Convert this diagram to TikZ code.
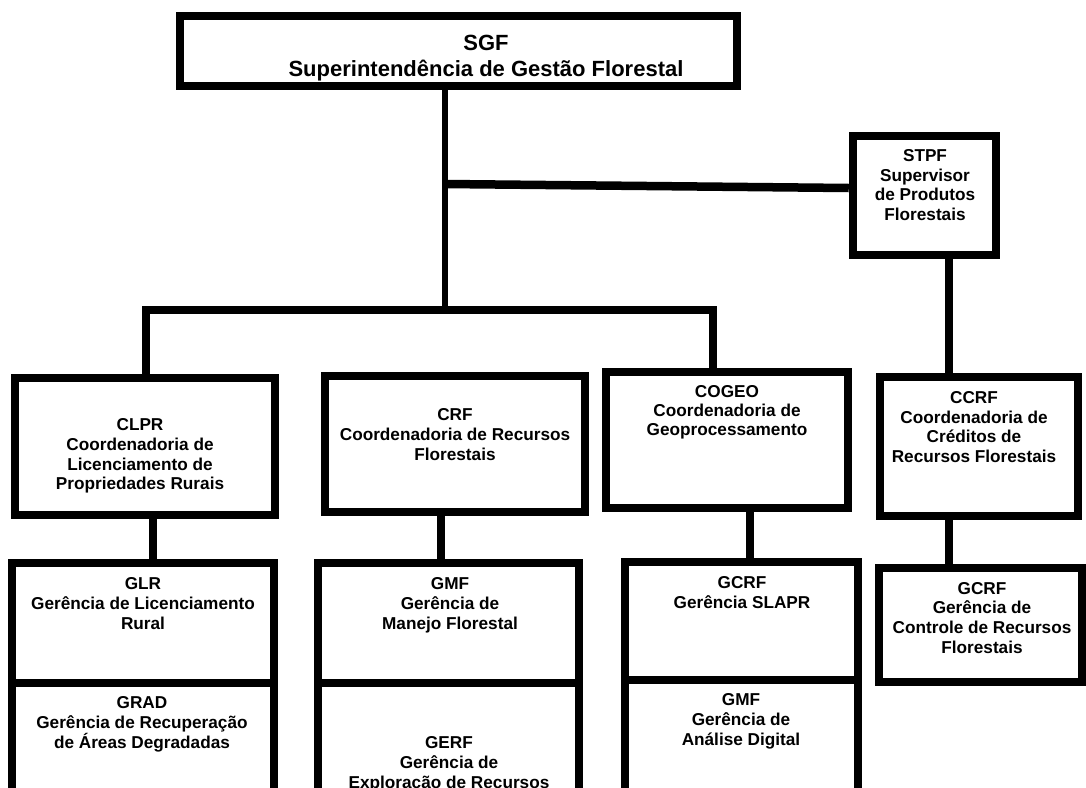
\documentclass[tikz,border=0pt]{standalone}
\usepackage{fontspec}
\setmainfont{Liberation Sans}
\usetikzlibrary{fit}
\newcommand{\stk}[1]{\vtop{\halign{\hfil##\hfil\cr#1\crcr}}}
\newcommand{\boxfont}{\fontsize{17.2}{19.8}\selectfont\bfseries}
\begin{document}
\begin{tikzpicture}[x=1pt,y=-1pt,
  box/.style={draw, line width=8.5pt, inner sep=0pt, line join=miter},
  conn/.style={draw, line width=8.5pt, line join=miter},
  trunk/.style={draw, line width=6.5pt},
  lbl/.style={anchor=base, inner sep=0pt, font=\boxfont}]
\useasboundingbox (0,0) rectangle (1086,787);
\fill[white] (0,0) rectangle (1086,787);

% boxes
\node[box, fit={(180,16) (737,86)}] (sgf) {};
\node[box, fit={(853,136) (996,255)}] (stpf) {};
\node[box, fit={(15,378) (275,515)}] (clpr) {};
\node[box, fit={(325,376) (585,512)}] (crf) {};
\node[box, fit={(606,372) (848,508)}] (cogeo) {};
\node[box, fit={(880,377) (1078,516)}] (ccrf) {};
\node[box, fit={(12,563) (274,683)}] (glr) {};
\node[box, fit={(12,683) (274,805)}] (grad) {};
\node[box, fit={(318,563) (579,683)}] (gmf) {};
\node[box, fit={(318,683) (579,805)}] (gerf) {};
\node[box, fit={(625,562) (858,680)}] (gcrf) {};
\node[box, fit={(625,680) (858,805)}] (gad) {};
\node[box, fit={(879,568) (1082,682)}] (gcrfb) {};

% labels
\node[lbl, font=\fontsize{22}{26.8}\selectfont\bfseries] (sgfT) at (486,50)
  {\stk{SGF\cr Superintendência de Gestão Florestal}};
\node[lbl, font=\fontsize{17.2}{19.5}\selectfont\bfseries] (stpfT) at (925,161.7)
  {\stk{STPF\cr Supervisor\cr de Produtos\cr Florestais}};
\node[lbl] (clprT) at (140,430.5)
  {\stk{CLPR\cr Coordenadoria de\cr Licenciamento de\cr Propriedades Rurais}};
\node[lbl, font=\fontsize{17.2}{20}\selectfont\bfseries] (crfT) at (455,420.7)
  {\stk{CRF\cr Coordenadoria de Recursos\cr Florestais}};
\node[lbl, font=\fontsize{17.2}{19.2}\selectfont\bfseries] (cogeoT) at (727,397.3)
  {\stk{COGEO\cr Coordenadoria de\cr Geoprocessamento}};
\node[lbl] (ccrfT) at (974,403.3)
  {\stk{CCRF\cr Coordenadoria de\cr Créditos de\cr Recursos Florestais}};
\node[lbl, font=\fontsize{17.2}{20.3}\selectfont\bfseries] (glrT) at (143,589)
  {\stk{GLR\cr Gerência de Licenciamento\cr Rural}};
\node[lbl, font=\fontsize{17.2}{20.3}\selectfont\bfseries] (gradT) at (142,708)
  {\stk{GRAD\cr Gerência de Recuperação\cr de Áreas Degradadas}};
\node[lbl, font=\fontsize{17.2}{20.3}\selectfont\bfseries] (gmfT) at (450,589)
  {\stk{GMF\cr Gerência de\cr Manejo Florestal}};
\node[lbl, font=\fontsize{17.2}{20}\selectfont\bfseries] (gerfT) at (449,748)
  {\stk{GERF\cr Gerência de\cr Exploração de Recursos}};
\node[lbl, font=\fontsize{17.2}{20.3}\selectfont\bfseries] (gcrfT) at (742,588)
  {\stk{GCRF\cr Gerência SLAPR}};
\node[lbl, font=\fontsize{17.2}{20}\selectfont\bfseries] (gadT) at (741,705)
  {\stk{GMF\cr Gerência de\cr Análise Digital}};
\node[lbl] (gcrfbT) at (982,594)
  {\stk{GCRF\cr Gerência de\cr Controle de Recursos\cr Florestais}};

% connector coordinates
\coordinate (tj) at (445,184);
\coordinate (sy) at (0,188);
\coordinate (barL) at (146,310);
\coordinate (barR) at (713,310);
\coordinate (c1) at (153,0);
\coordinate (c2) at (441,0);
\coordinate (c3) at (750,0);
\coordinate (c4) at (949,0);

% connectors
\draw[trunk] (sgf.south -| tj) -- (tj |- barL);
\draw[conn] (tj) -- (stpf.west |- sy);
\draw[conn] (clpr.north -| barL) -- (barL) -- (barR) -- (cogeo.north -| barR);
\draw[conn] (clpr.south -| c1) -- (glr.north -| c1);
\draw[conn] (crf.south -| c2) -- (gmf.north -| c2);
\draw[conn] (cogeo.south -| c3) -- (gcrf.north -| c3);
\draw[conn] (stpf.south -| c4) -- (ccrf.north -| c4);
\draw[conn] (ccrf.south -| c4) -- (gcrfb.north -| c4);
\end{tikzpicture}
\end{document}
